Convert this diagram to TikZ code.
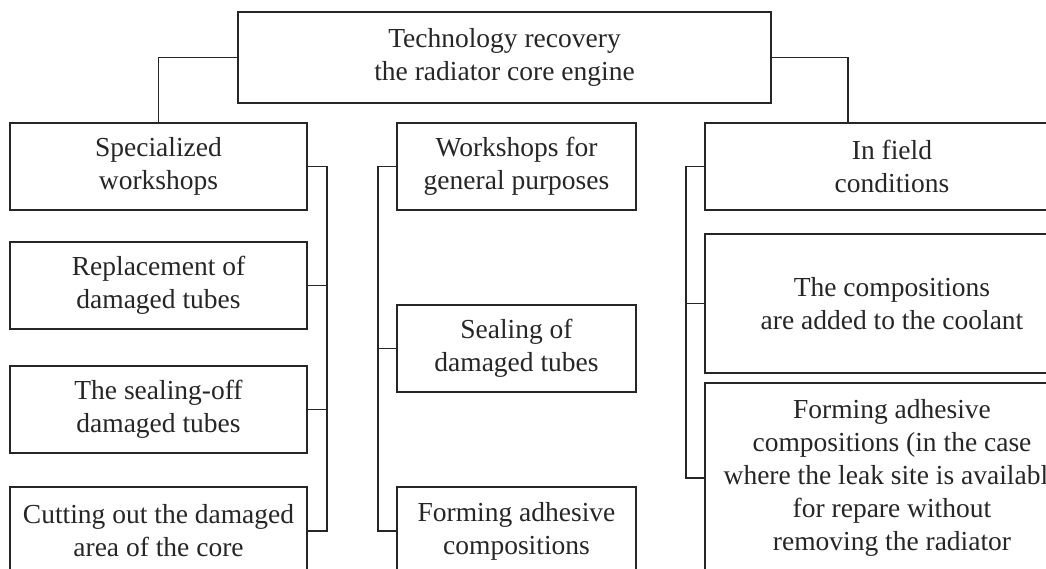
\documentclass[tikz,border=0pt]{standalone}
\usepackage{fontspec}
\setmainfont{Liberation Serif}
\begin{document}
\begin{tikzpicture}[x=1pt,y=-1pt,
  box/.style={draw=black!85, line width=1.1pt, align=center, inner sep=0pt,
    font=\fontsize{27.5}{33}\selectfont, text=black!85},
  link/.style={draw=black!85, line width=1.1pt}]
\useasboundingbox (0,0) rectangle (1046,569);
\clip (0,0) rectangle (1046,569);
% top
\node[box, minimum width=533pt, minimum height=91pt] (top) at (504.5,57.5) {Technology recovery\\the radiator core engine};
% left column
\node[box, minimum width=297pt, minimum height=87pt] (spec) at (158.5,166.5) {Specialized\\workshops};
\node[box, minimum width=297pt, minimum height=87pt] (repl) at (158.5,285.5) {Replacement of\\damaged tubes};
\node[box, minimum width=297pt, minimum height=87pt] (soff) at (158.5,409.5) {The sealing-off\\damaged tubes};
\node[box, minimum width=297pt, minimum height=88pt] (cut) at (158.5,531) {Cutting out the damaged\\area of the core};
% middle column
\node[box, minimum width=239pt, minimum height=87pt] (gen) at (516.5,166.5) {Workshops for\\general purposes};
\node[box, minimum width=239pt, minimum height=87pt] (seal) at (516.5,348.5) {Sealing of\\damaged tubes};
\node[box, minimum width=239pt, minimum height=88pt] (form) at (516.5,531) {Forming adhesive\\compositions};
% right column
\node[box, minimum width=374pt, minimum height=87pt] (field) at (892,166.5) {In field\\conditions};
\node[box, minimum width=374pt, minimum height=139pt] (cool) at (892,303.5) {The compositions\\are added to the coolant};
\node[box, minimum width=374pt, minimum height=190pt] (leak) at (892,478) {Forming adhesive\\compositions (in the case\\where the leak site is available\\for repare without\\removing the radiator};
% connectors from top
\coordinate (fin) at (848,123);
\draw[link] (top.west) -| (spec.north);
\draw[link] (top.east) -| (fin);
% buses
\coordinate (lb) at (327,0);
\coordinate (mb) at (378,0);
\coordinate (rb) at (686,0);
\draw[link] (spec.east) -| (lb |- cut.east) -- (cut.east);
\draw[link] (repl.east) -- (repl.east -| lb);
\draw[link] (soff.east) -- (soff.east -| lb);
\draw[link] (gen.west) -| (mb |- form.west) -- (form.west);
\draw[link] (seal.west) -- (seal.west -| mb);
\draw[link] (field.west) -| (rb |- leak.west) -- (leak.west);
\draw[link] (cool.west) -- (cool.west -| rb);
\end{tikzpicture}
\end{document}
